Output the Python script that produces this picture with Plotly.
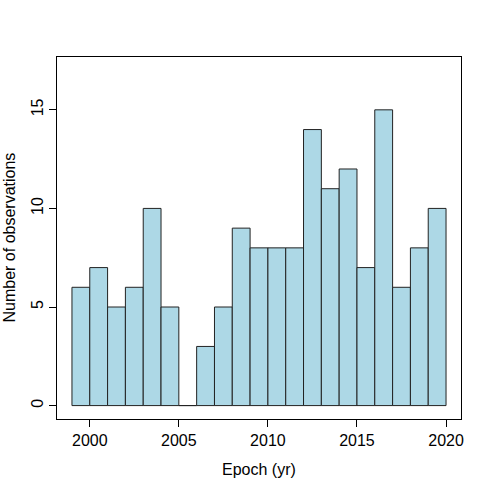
import plotly.graph_objects as go

# histogram bins: left edges (year) and counts
bin_start = list(range(1999, 2020))
counts = [6, 7, 5, 6, 10, 5, 0, 3, 5, 9, 8, 8, 8, 14, 11, 12, 7, 15, 6, 8, 10]
x_ticks = [2000, 2005, 2010, 2015, 2020]
y_ticks = [0, 5, 10, 15]

FONT = "Liberation Sans, Arial, Helvetica, sans-serif"

fig = go.Figure(go.Bar(
    x=bin_start, y=counts, offset=0, width=1,
    marker=dict(color="#ADD8E6", line=dict(color="#222222", width=1)),
))

axis_common = dict(
    showgrid=False, zeroline=False, showline=True, linecolor="black",
    linewidth=1, mirror=True, ticks="outside", ticklen=7, tickwidth=1,
    tickcolor="black", tickfont=dict(size=16, color="black", family=FONT),
)

fig.update_layout(
    width=491, height=491,
    margin=dict(l=57, r=30, t=57, b=72),
    paper_bgcolor="white", plot_bgcolor="white",
    showlegend=False,
    font=dict(family=FONT, size=16, color="black"),
    xaxis=dict(range=[1998.16, 2020.84], tickvals=x_ticks, **axis_common),
    yaxis=dict(range=[-0.68, 17.68], tickvals=y_ticks, tickangle=-90, **axis_common),
    annotations=[
        dict(text="Epoch (yr)", xref="paper", yref="paper", x=0.5, y=0,
             xanchor="center", yanchor="middle", yshift=-50, showarrow=False,
             font=dict(size=16)),
        dict(text="Number of observations", xref="paper", yref="paper", x=0, y=0.5,
             xanchor="center", yanchor="middle", xshift=-48.5, textangle=-90,
             showarrow=False, font=dict(size=16)),
    ],
)

# drop the default body margin so the figure sits at the page corner
fig.write_html("out.html", config={"displayModeBar": False},
               post_script="document.body.style.margin='0';")
